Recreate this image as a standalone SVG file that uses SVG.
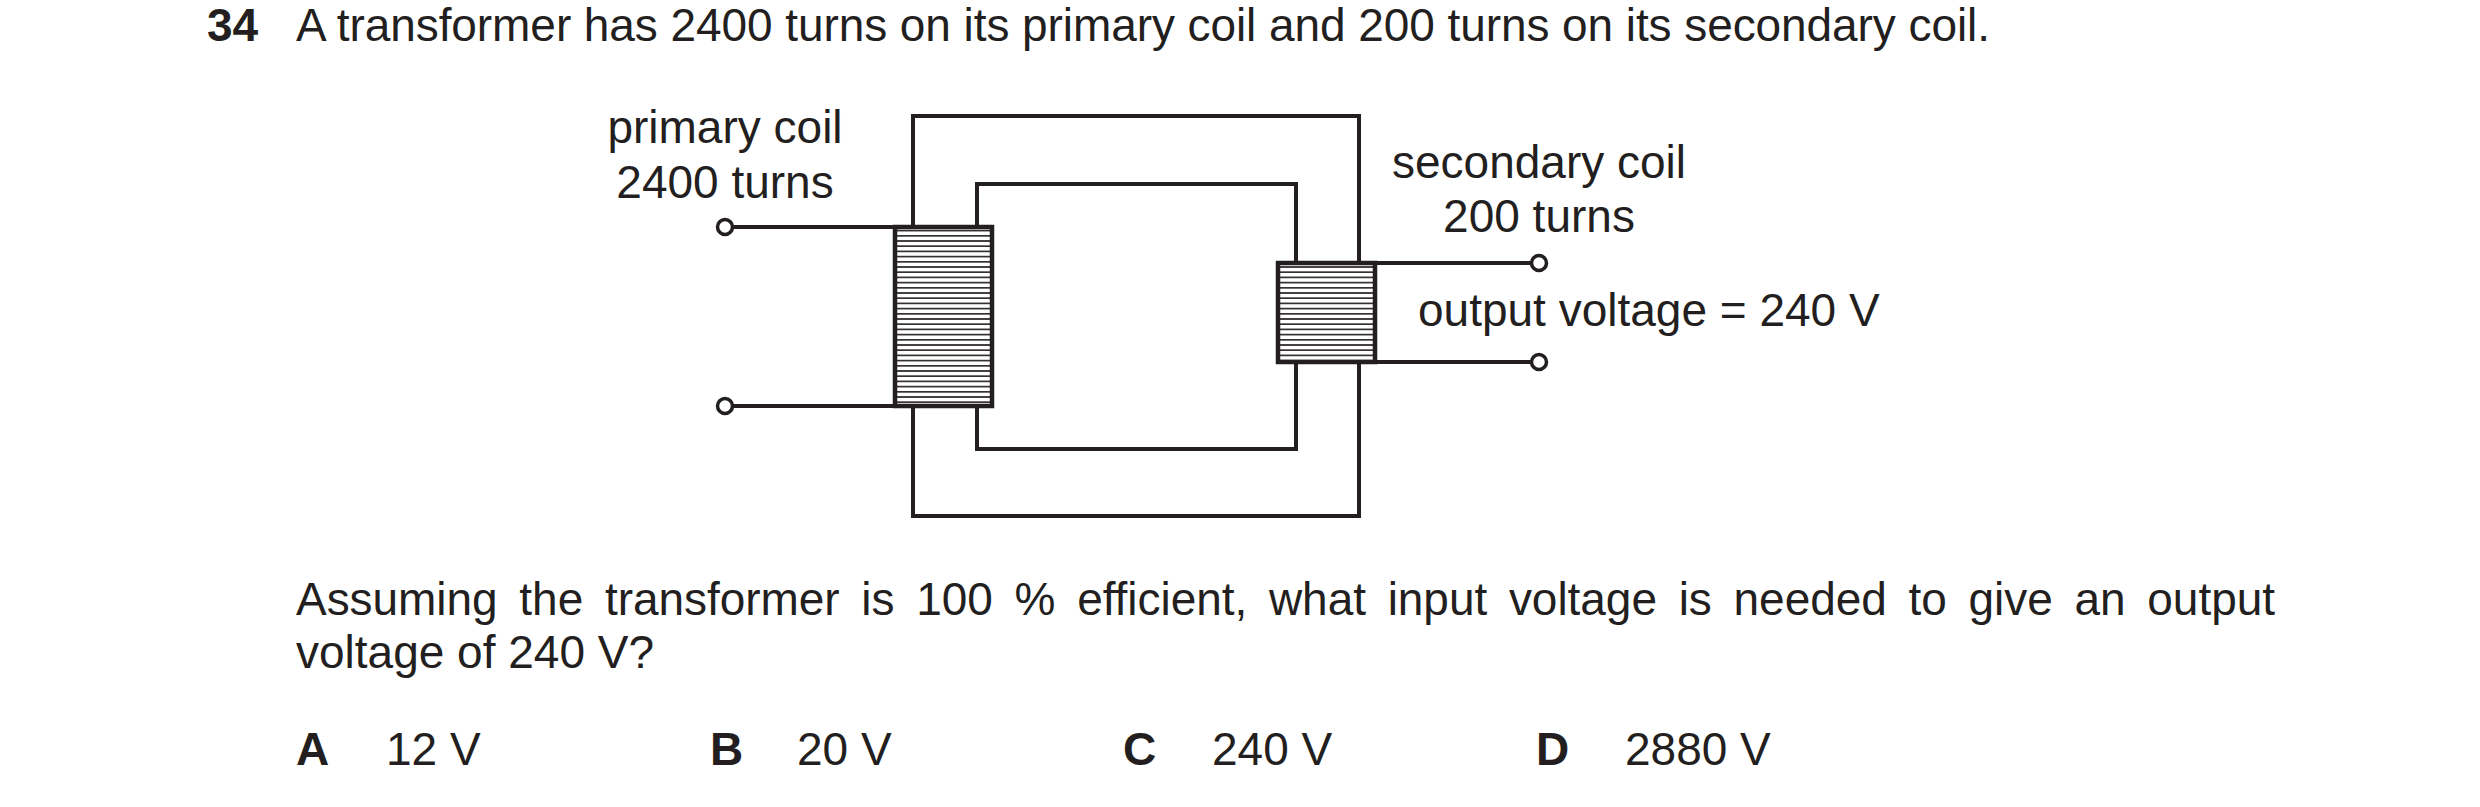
<svg xmlns="http://www.w3.org/2000/svg" width="2480" height="807" viewBox="0 0 2480 807">
<style>
text{font-family:"Liberation Sans",Arial,sans-serif;font-size:46px;fill:#231f20}
.b{font-weight:bold}
.m{text-anchor:middle}
.ln{fill:none;stroke:#231f20;stroke-width:4}
.term{fill:#fff;stroke:#231f20;stroke-width:3.5}
.coil{fill:url(#hatch);stroke:#231f20;stroke-width:4.5}
</style>
<defs>
<pattern id="hatch" patternUnits="userSpaceOnUse" width="10" height="5.2" y="228">
<rect width="10" height="5.2" fill="#fff"/>
<line x1="0" y1="2.6" x2="10" y2="2.6" stroke="#231f20" stroke-width="1.6"/>
</pattern>
</defs>
<text x="207" y="41" class="b">34</text>
<text x="296" y="41" textLength="1694">A transformer has 2400 turns on its primary coil and 200 turns on its secondary coil.</text>
<g id="core">
<rect class="ln" x="913" y="116" width="446" height="400"/>
<rect class="ln" x="977" y="184" width="319" height="265"/>
</g>
<g id="connectors">
<line class="ln" x1="733" y1="227" x2="895" y2="227"/>
<line class="ln" x1="733" y1="406" x2="895" y2="406"/>
<line class="ln" x1="1375" y1="263" x2="1531" y2="263"/>
<line class="ln" x1="1375" y1="362" x2="1531" y2="362"/>
</g>
<g id="primary-coil">
<rect class="coil" x="895" y="227" width="97" height="179"/>
<circle class="term" cx="725" cy="227" r="7.5"/>
<circle class="term" cx="725" cy="406" r="7.5"/>
<text x="725" y="143" class="m">primary coil</text>
<text x="725" y="198" class="m">2400 turns</text>
</g>
<g id="secondary-coil">
<rect class="coil" x="1278" y="263" width="97" height="99"/>
<circle class="term" cx="1539" cy="263" r="7.5"/>
<circle class="term" cx="1539" cy="362" r="7.5"/>
<text x="1539" y="178" class="m">secondary coil</text>
<text x="1539" y="232" class="m">200 turns</text>
<text x="1418" y="326">output voltage = 240 V</text>
</g>
<text x="296" y="615" word-spacing="9" textLength="1979" lengthAdjust="spacing">Assuming the transformer is 100 % efficient, what input voltage is needed to give an output</text>
<text x="296" y="668">voltage of 240 V?</text>
<text x="296" y="765" class="b">A</text><text x="386" y="765">12 V</text>
<text x="710" y="765" class="b">B</text><text x="797" y="765">20 V</text>
<text x="1123" y="765" class="b">C</text><text x="1212" y="765">240 V</text>
<text x="1536" y="765" class="b">D</text><text x="1625" y="765">2880 V</text>
</svg>
